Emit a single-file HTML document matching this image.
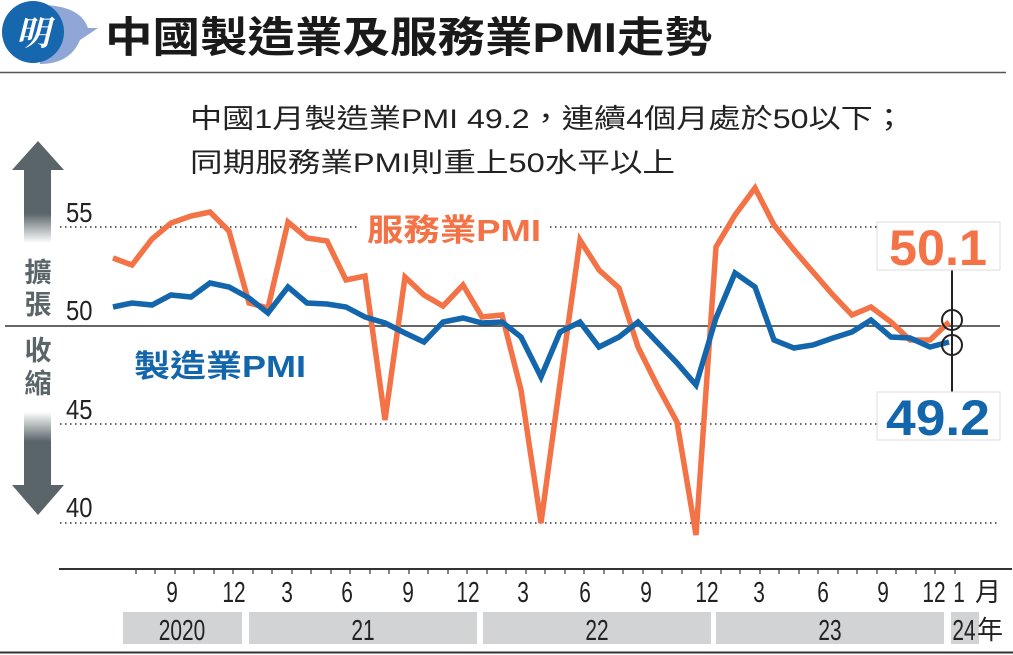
<!DOCTYPE html>
<html><head><meta charset="utf-8">
<style>
html,body{margin:0;padding:0;background:#fff;}
svg{display:block;font-family:"Liberation Sans","Noto Sans CJK TC",sans-serif;}
</style></head><body>
<svg width="1013" height="655" viewBox="0 0 1013 655" xmlns="http://www.w3.org/2000/svg">
<defs>
<linearGradient id="gu" x1="0" y1="0" x2="0" y2="1">
<stop offset="0" stop-color="#5a6569"/><stop offset="0.6" stop-color="#5a6569"/><stop offset="1" stop-color="#fff"/>
</linearGradient>
<linearGradient id="gd" x1="0" y1="1" x2="0" y2="0">
<stop offset="0" stop-color="#5a6569"/><stop offset="0.6" stop-color="#5a6569"/><stop offset="1" stop-color="#fff"/>
</linearGradient>
</defs>
<path d="M40,5 Q80,5 88,28 L98,28 L80,40 Q70,64 40,64 Z" fill="#8fa6d6"/>
<circle cx="33" cy="32" r="31" fill="#1767ae"/>
<text x="33" y="45" font-size="34" font-weight="bold" fill="#fff" text-anchor="middle" font-style="italic" font-family="'Noto Serif CJK SC',serif">明</text>
<text x="105" y="52" font-size="42" font-weight="bold" fill="#1a1a1a" textLength="607" lengthAdjust="spacingAndGlyphs">中國製造業及服務業PMI走勢</text>
<line x1="0" y1="72.5" x2="1006" y2="72.5" stroke="#555" stroke-width="1.5"/>
<text x="190" y="128" font-size="27" fill="#222" textLength="715" lengthAdjust="spacingAndGlyphs">中國1月製造業PMI 49.2，連續4個月處於50以下；</text>
<text x="190" y="172" font-size="27" fill="#222" textLength="485" lengthAdjust="spacingAndGlyphs">同期服務業PMI則重上50水平以上</text>
<polygon points="38,141 64,170 12,170" fill="#5a6569"/>
<rect x="24" y="169" width="27" height="74" fill="url(#gu)"/>
<polygon points="38,515 64,485 12,485" fill="#5a6569"/>
<rect x="24" y="412" width="27" height="74" fill="url(#gd)"/>
<g font-size="27" font-weight="bold" fill="#5a6569" text-anchor="middle">
<text x="38" y="282">擴</text><text x="38" y="314">張</text>
<text x="38" y="360">收</text><text x="38" y="393">縮</text>
</g>
<g fill="#222">
<text transform="translate(66,222) scale(0.85,1)" font-size="28">55</text>
<text transform="translate(66,320) scale(0.85,1)" font-size="28">50</text>
<text transform="translate(66,419) scale(0.85,1)" font-size="28">45</text>
<text transform="translate(66,517) scale(0.85,1)" font-size="28">40</text>
</g>
<g stroke="#333" stroke-width="1.5" stroke-dasharray="1.5,3.5">
<line x1="60" y1="227" x2="1000" y2="227"/>
<line x1="60" y1="424" x2="1000" y2="424"/>
<line x1="60" y1="523" x2="1000" y2="523"/>
</g>
<line x1="5" y1="326" x2="1000" y2="326" stroke="#333" stroke-width="1.5"/>
<rect x="360" y="205" width="188" height="42" fill="#fff"/>
<text x="367" y="241" font-size="31" font-weight="bold" fill="#f37246" textLength="174" lengthAdjust="spacingAndGlyphs">服務業PMI</text>
<text x="134" y="377" font-size="31" font-weight="bold" fill="#1366ab" textLength="172" lengthAdjust="spacingAndGlyphs">製造業PMI</text>
<polyline fill="none" stroke="#f37246" stroke-width="5.5" stroke-linejoin="miter" points="113,258 132,265 152,239 171,223 191,216 210,212 229,231 249,303 268,308 288,222 307,238 327,241 346,280 365,276 385,420 405,277 424,295 443,306 463,285 482,317 502,315 521,390 541,523 560,383 580,240 599,270 619,288 638,347 657,385 677,422 696,535 716,247 735,215 755,188 774,225 794,250 813,272 833,295 852,315 871,307 891,322 910,340 930,340 949,322"/>
<polyline fill="none" stroke="#1366ab" stroke-width="5.5" stroke-linejoin="miter" points="113,307 132,303 152,305 171,295 191,297 210,283 229,287 249,298 268,313 288,287 307,303 327,304 346,307 365,317 385,323 405,333 424,342 443,322 463,318 482,323 502,322 521,337 541,377 560,332 580,322 599,347 619,337 638,322 657,342 677,363 696,385 716,318 735,273 755,287 774,340 794,348 813,345 833,338 852,332 871,320 891,337 910,338 930,347 949,342"/>
<line x1="952" y1="265" x2="952" y2="392" stroke="#222" stroke-width="2"/>
<circle cx="952" cy="320" r="10" fill="none" stroke="#222" stroke-width="2"/>
<circle cx="952" cy="345" r="10" fill="none" stroke="#222" stroke-width="2"/>
<rect x="877" y="222" width="123" height="48" fill="#fff" stroke="#ddd"/>
<text x="938" y="265" font-size="50" font-weight="bold" fill="#f37246" text-anchor="middle" textLength="98" lengthAdjust="spacingAndGlyphs">50.1</text>
<rect x="877" y="392" width="123" height="48" fill="#fff" stroke="#ddd"/>
<text x="938" y="435" font-size="50" font-weight="bold" fill="#1366ab" text-anchor="middle" textLength="104" lengthAdjust="spacingAndGlyphs">49.2</text>
<line x1="59" y1="569" x2="1012" y2="569" stroke="#333" stroke-width="2"/>
<g stroke="#333" stroke-width="1.2">
<line x1="136" y1="569" x2="136" y2="574"/><line x1="155" y1="569" x2="155" y2="574"/><line x1="175" y1="569" x2="175" y2="574"/><line x1="194" y1="569" x2="194" y2="574"/><line x1="214" y1="569" x2="214" y2="574"/><line x1="233" y1="569" x2="233" y2="574"/><line x1="253" y1="569" x2="253" y2="574"/><line x1="272" y1="569" x2="272" y2="574"/><line x1="292" y1="569" x2="292" y2="574"/><line x1="311" y1="569" x2="311" y2="574"/><line x1="331" y1="569" x2="331" y2="574"/><line x1="350" y1="569" x2="350" y2="574"/><line x1="370" y1="569" x2="370" y2="574"/><line x1="389" y1="569" x2="389" y2="574"/><line x1="409" y1="569" x2="409" y2="574"/><line x1="428" y1="569" x2="428" y2="574"/><line x1="448" y1="569" x2="448" y2="574"/><line x1="467" y1="569" x2="467" y2="574"/><line x1="487" y1="569" x2="487" y2="574"/><line x1="506" y1="569" x2="506" y2="574"/><line x1="526" y1="569" x2="526" y2="574"/><line x1="545" y1="569" x2="545" y2="574"/><line x1="565" y1="569" x2="565" y2="574"/><line x1="584" y1="569" x2="584" y2="574"/><line x1="604" y1="569" x2="604" y2="574"/><line x1="623" y1="569" x2="623" y2="574"/><line x1="643" y1="569" x2="643" y2="574"/><line x1="662" y1="569" x2="662" y2="574"/><line x1="682" y1="569" x2="682" y2="574"/><line x1="701" y1="569" x2="701" y2="574"/><line x1="721" y1="569" x2="721" y2="574"/><line x1="740" y1="569" x2="740" y2="574"/><line x1="760" y1="569" x2="760" y2="574"/><line x1="779" y1="569" x2="779" y2="574"/><line x1="799" y1="569" x2="799" y2="574"/><line x1="818" y1="569" x2="818" y2="574"/><line x1="838" y1="569" x2="838" y2="574"/><line x1="857" y1="569" x2="857" y2="574"/><line x1="877" y1="569" x2="877" y2="574"/><line x1="896" y1="569" x2="896" y2="574"/><line x1="916" y1="569" x2="916" y2="574"/><line x1="935" y1="569" x2="935" y2="574"/><line x1="955" y1="569" x2="955" y2="574"/>
</g>
<g font-size="29" fill="#222" text-anchor="middle">
<text transform="translate(172,602) scale(0.72,1)">9</text>
<text transform="translate(234,602) scale(0.72,1)">12</text>
<text transform="translate(287,602) scale(0.72,1)">3</text>
<text transform="translate(347,602) scale(0.72,1)">6</text>
<text transform="translate(408,602) scale(0.72,1)">9</text>
<text transform="translate(468,602) scale(0.72,1)">12</text>
<text transform="translate(523,602) scale(0.72,1)">3</text>
<text transform="translate(585,602) scale(0.72,1)">6</text>
<text transform="translate(646,602) scale(0.72,1)">9</text>
<text transform="translate(707,602) scale(0.72,1)">12</text>
<text transform="translate(759,602) scale(0.72,1)">3</text>
<text transform="translate(823,602) scale(0.72,1)">6</text>
<text transform="translate(883,602) scale(0.72,1)">9</text>
<text transform="translate(934,602) scale(0.72,1)">12</text>
<text transform="translate(959,602) scale(0.72,1)">1</text>
<text x="988" y="601" font-size="26">月</text>
</g>
<g fill="#d1d3d5">
<rect x="123" y="612" width="119" height="32"/>
<rect x="249" y="612" width="228" height="32"/>
<rect x="483" y="612" width="228" height="32"/>
<rect x="716" y="612" width="228" height="32"/>
<rect x="951" y="612" width="28" height="32"/>
</g>
<g font-size="29" fill="#222" text-anchor="middle">
<text transform="translate(182,640) scale(0.72,1)">2020</text>
<text transform="translate(363,640) scale(0.72,1)">21</text>
<text transform="translate(597,640) scale(0.72,1)">22</text>
<text transform="translate(830,640) scale(0.72,1)">23</text>
<text transform="translate(964,640) scale(0.72,1)">24</text>
<text x="990" y="639" font-size="26">年</text>
</g>
<line x1="0" y1="652.5" x2="1013" y2="652.5" stroke="#333" stroke-width="2"/>
</svg>
</body></html>
